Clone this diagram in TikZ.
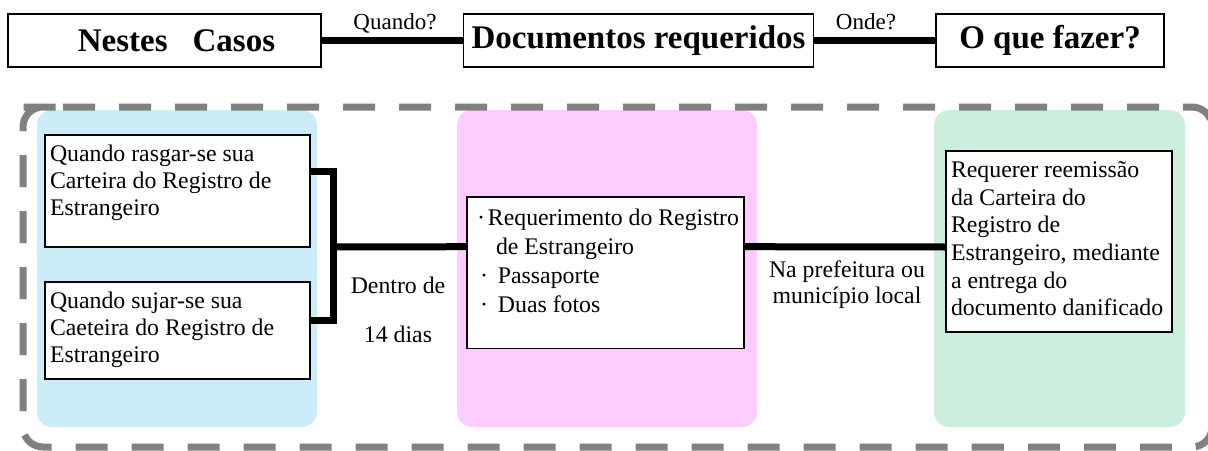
\documentclass[tikz,border=0pt]{standalone}
\usepackage{fontspec}
\setmainfont{Liberation Serif}
\usepackage{xcolor}
\usepackage{tikz}

\definecolor{panelblue}{RGB}{204,236,249}
\definecolor{panelpink}{RGB}{255,204,255}
\definecolor{panelgreen}{RGB}{204,238,221}
\definecolor{framegray}{RGB}{128,128,128}

\newcommand{\bodysize}{\fontsize{23.8pt}{27pt}\selectfont}
\newcommand{\titlesize}{\fontsize{33pt}{36pt}\selectfont\bfseries}

\begin{document}
\begin{tikzpicture}[x=1pt,y=-1pt,
  panel/.style={rounded corners=15pt},
  frame/.style={draw=framegray,line width=7pt,dash pattern=on 32pt off 24pt,rounded corners=20pt},
  topbox/.style={draw,line width=1.5pt,fill=white,outer sep=0pt,inner sep=0pt,font=\titlesize},
  box/.style={draw,line width=1.4pt,fill=white,anchor=north west,outer sep=0pt,inner xsep=5pt,inner ysep=8pt,font=\bodysize},
  link/.style={line width=7pt},
  lbl/.style={font=\bodysize,inner sep=0pt,anchor=base},
  asklbl/.style={font=\fontsize{23pt}{26pt}\selectfont,inner sep=0pt,anchor=base}]
 	\useasboundingbox (0,0) rectangle (1208,450);
 	% coloured panels
 	\fill[panel,panelblue] (37,110) rectangle (317,427);
 	\fill[panel,panelpink] (457,110) rectangle (757,427);
 	\fill[panel,panelgreen] (934,110) rectangle (1185,427);
 	\draw[frame] (43,107) -- (1212,107) -- (1212,447) -- (23,447) -- (23,107) -- cycle;
 	% heading row
 	\node[topbox,minimum width=313pt,minimum height=53pt] (casos) at (164.5,40.5) {\hspace*{24pt}Nestes\hspace{25pt}Casos};
 	\node[topbox,minimum width=350pt,minimum height=53pt] (docs) at (638.5,40.5) {Documentos requeridos};
 	\node[topbox,minimum width=228pt,minimum height=53pt] (fazer) at (1050,40.5) {O que fazer?};
 	\draw[link] (casos) -- (docs);
 	\draw[link] (docs) -- (fazer);
 	\node[asklbl] (quando) at (395,29) {Quando?};
 	\node[asklbl] (onde) at (866,29) {Onde?};
 	% boxes
 	\node[box] (a1) at (45,135) {\parbox[t][96pt][t]{255pt}{\raggedright\strut Quando rasgar-se sua\\Carteira do Registro de\\Estrangeiro}};
 	\node[box] (a2) at (45,282) {\parbox[t][81pt][t]{255pt}{\raggedright\strut Quando sujar-se sua\\Caeteira do Registro de\\Estrangeiro}};
 	\node[box,font=\fontsize{23.8pt}{29pt}\selectfont,inner ysep=7.7pt] (b) at (467,197) {\parbox[t][136pt][t]{267pt}{\raggedright\strut\hspace*{5pt}·\hspace{3pt}Requerimento do Registro\\\hspace*{24pt}de Estrangeiro\\\hspace*{8pt}·\hspace{10pt}Passaporte\\\hspace*{8pt}·\hspace{10pt}Duas fotos}};
 	\node[box,font=\fontsize{23.8pt}{27.7pt}\selectfont,inner ysep=7pt] (c) at (946,151) {\parbox[t][167pt][t]{216pt}{\raggedright\strut Requerer reemissão\\da Carteira do\\Registro de\\Estrangeiro, mediante\\a entrega do\\documento danificado}};
 	% connectors
 	\coordinate (jn) at (333,247);
 	\draw[link] ([yshift=20pt]a1.east) -| (jn) |- ([yshift=10.5pt]a2.east);
 	\draw[link] (jn) -- ([yshift=26pt]b.west);
 	\draw[link] ([yshift=26pt]b.east) -- ([yshift=-5.5pt]c.west);
 	\node[lbl] (dentro) at (398,293) {Dentro de};
 	\node[lbl] (dias) at (398,342) {14 dias};
 	\node[lbl] (prefeitura) at (847,277) {Na prefeitura ou};
 	\node[lbl] (municipio) at (847,303) {município local};
 \end{tikzpicture}
\end{document}
